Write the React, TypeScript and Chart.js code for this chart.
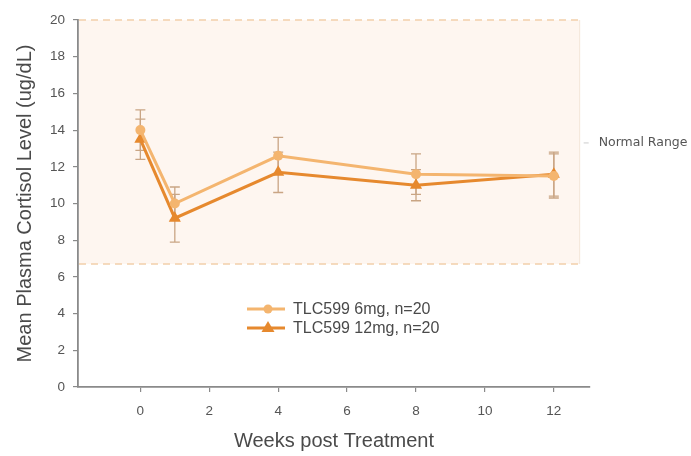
import React, { useEffect, useRef } from "react";
import { Chart, registerables } from "chart.js";

Chart.register(...registerables);

// Study visits (weeks after treatment)
const weeks = [0, 1, 4, 8, 12];

// Mean plasma cortisol (ug/dL) and error half-widths per arm
const mean6mg = [14.0, 10.0, 12.6, 11.6, 11.5];
const err6mg = [1.1, 0.9, 1.0, 1.1, 1.2];
const mean12mg = [13.5, 9.2, 11.7, 11.0, 11.6];
const err12mg = [1.1, 1.3, 1.1, 0.85, 1.2];

const seriesLabels = ["TLC599 6mg, n=20", "TLC599 12mg, n=20"];

// Normal cortisol range band
const normalRangeLow = 6.7;
const normalRangeHigh = 20;
const normalRangeEndWeek = 12.75;
const normalRangeLabel = "Normal Range";

const xTickValues = [0, 2, 4, 6, 8, 10, 12];
const yTickValues = [0, 2, 4, 6, 8, 10, 12, 14, 16, 18, 20];

const COLOR_6MG = "#f4b56f";
const COLOR_12MG = "#e6892e";
const ERR_COLOR = "#c9a584";
const AXIS_COLOR = "#8a8a8a";
const TEXT_COLOR = "#4a4a4a";
const FONT = "'Liberation Sans', Arial, sans-serif";

const errorSets = [err6mg, err12mg];

const normalRangePlugin = {
  id: "normalRange",
  beforeDatasetsDraw(chart: any) {
    const { ctx, scales } = chart;
    const x = scales.x;
    const y = scales.y;
    const left = chart.chartArea.left + 1;
    const right = x.getPixelForValue(normalRangeEndWeek);
    const top = y.getPixelForValue(normalRangeHigh);
    const bottom = y.getPixelForValue(normalRangeLow);
    ctx.save();
    ctx.fillStyle = "#fef6f0";
    ctx.fillRect(left, top, right - left, bottom - top);
    ctx.strokeStyle = "#f2cfab";
    ctx.lineWidth = 1.5;
    ctx.setLineDash([7, 5]);
    ctx.beginPath();
    ctx.moveTo(left, top);
    ctx.lineTo(right, top);
    ctx.moveTo(left, bottom);
    ctx.lineTo(right, bottom);
    ctx.stroke();
    ctx.setLineDash([]);
    ctx.strokeStyle = "#f3e6da";
    ctx.lineWidth = 1;
    ctx.beginPath();
    ctx.moveTo(right, top);
    ctx.lineTo(right, bottom);
    ctx.stroke();

    // label beside the band
    const midY = y.getPixelForValue(13.3);
    ctx.strokeStyle = "#cccccc";
    ctx.beginPath();
    ctx.moveTo(right + 4, midY);
    ctx.lineTo(right + 9, midY);
    ctx.stroke();
    ctx.fillStyle = "#555555";
    ctx.font = "12.5px 'DejaVu Sans', sans-serif";
    ctx.textBaseline = "middle";
    ctx.textAlign = "left";
    ctx.fillText(normalRangeLabel, right + 19, midY);

    // error bars behind the markers
    chart.data.datasets.forEach((ds: any, i: number) => {
      const errs = errorSets[i];
      ctx.strokeStyle = ERR_COLOR;
      ctx.lineWidth = 1.3;
      ds.data.forEach((pt: any, j: number) => {
        const px = x.getPixelForValue(pt.x);
        const hi = y.getPixelForValue(pt.y + errs[j]);
        const lo = y.getPixelForValue(pt.y - errs[j]);
        ctx.beginPath();
        ctx.moveTo(px, hi);
        ctx.lineTo(px, lo);
        ctx.moveTo(px - 5, hi);
        ctx.lineTo(px + 5, hi);
        ctx.moveTo(px - 5, lo);
        ctx.lineTo(px + 5, lo);
        ctx.stroke();
      });
    });
    ctx.restore();
  },
};

const legendPlugin = {
  id: "insideLegend",
  afterDatasetsDraw(chart: any) {
    const { ctx } = chart;
    const rows = [
      { color: COLOR_6MG, style: "circle", y: 309 },
      { color: COLOR_12MG, style: "triangle", y: 328 },
    ];
    ctx.save();
    rows.forEach((r, i) => {
      ctx.strokeStyle = r.color;
      ctx.fillStyle = r.color;
      ctx.lineWidth = 3;
      ctx.beginPath();
      ctx.moveTo(247, r.y);
      ctx.lineTo(285, r.y);
      ctx.stroke();
      ctx.beginPath();
      if (r.style === "circle") {
        ctx.arc(268, r.y, 4.5, 0, Math.PI * 2);
      } else {
        ctx.moveTo(268, r.y - 7);
        ctx.lineTo(274.5, r.y + 4);
        ctx.lineTo(261.5, r.y + 4);
        ctx.closePath();
      }
      ctx.fill();
      ctx.fillStyle = TEXT_COLOR;
      ctx.font = `16px ${FONT}`;
      ctx.textBaseline = "middle";
      ctx.textAlign = "left";
      ctx.fillText(seriesLabels[i], 293, r.y + 1);
    });
    ctx.restore();
  },
};

export default function App() {
  const ref = useRef<HTMLCanvasElement | null>(null);

  useEffect(() => {
    if (!ref.current) return;
    const toPoints = (vals: number[]) => weeks.map((w, i) => ({ x: w, y: vals[i] }));
    const chart = new Chart(ref.current, {
      type: "line",
      data: {
        datasets: [
          {
            label: seriesLabels[0],
            data: toPoints(mean6mg),
            borderColor: COLOR_6MG,
            backgroundColor: COLOR_6MG,
            borderWidth: 3,
            pointStyle: "circle",
            pointRadius: 5,
            pointBorderWidth: 0,
            tension: 0,
          },
          {
            label: seriesLabels[1],
            data: toPoints(mean12mg),
            borderColor: COLOR_12MG,
            backgroundColor: COLOR_12MG,
            borderWidth: 3,
            pointStyle: "triangle",
            pointRadius: 7,
            pointBorderWidth: 0,
            tension: 0,
          },
        ],
      },
      options: {
        animation: false,
        responsive: false,
        devicePixelRatio: 1,
        layout: { padding: { top: 20, right: 101, left: 0, bottom: 0 } },
        plugins: {
          legend: { display: false },
          tooltip: { enabled: false },
        },
        scales: {
          x: {
            type: "linear",
            min: -1.81,
            max: 13.05,
            afterBuildTicks: (s: any) => {
              s.ticks = xTickValues.map((v) => ({ value: v }));
            },
            afterFit: (s: any) => {
              s.height = 69;
            },
            grid: {
              drawOnChartArea: false,
              drawTicks: true,
              tickLength: 5,
              color: AXIS_COLOR,
              lineWidth: 1.2,
            },
            border: { display: true, color: AXIS_COLOR, width: 1.8 },
            ticks: {
              color: "#555555",
              font: { family: FONT, size: 13.5 },
              padding: 11,
              callback: (v: any) => String(v),
            },
            title: {
              display: true,
              text: "Weeks post Treatment",
              color: TEXT_COLOR,
              font: { family: FONT, size: 20 },
              padding: { top: 0, bottom: 3 },
            },
          },
          y: {
            type: "linear",
            min: 0,
            max: 20,
            afterBuildTicks: (s: any) => {
              s.ticks = yTickValues.map((v) => ({ value: v }));
            },
            afterFit: (s: any) => {
              s.width = 78;
            },
            grid: {
              drawOnChartArea: false,
              drawTicks: true,
              tickLength: 5,
              color: AXIS_COLOR,
              lineWidth: 1.2,
            },
            border: { display: true, color: AXIS_COLOR, width: 1.8 },
            ticks: {
              color: "#555555",
              font: { family: FONT, size: 13.5 },
              padding: 8,
              callback: (v: any) => String(v),
            },
            title: {
              display: true,
              text: "Mean Plasma Cortisol Level (ug/dL)",
              color: TEXT_COLOR,
              font: { family: FONT, size: 20 },
              padding: { top: 13, bottom: 0 },
            },
          },
        },
      },
      plugins: [normalRangePlugin, legendPlugin],
    });
    return () => chart.destroy();
  }, []);

  return (
    <div style={{ position: "absolute", left: 0, top: 0, width: 691, height: 456, background: "#ffffff" }}>
      <canvas ref={ref} width={691} height={456} style={{ display: "block" }} />
    </div>
  );
}
